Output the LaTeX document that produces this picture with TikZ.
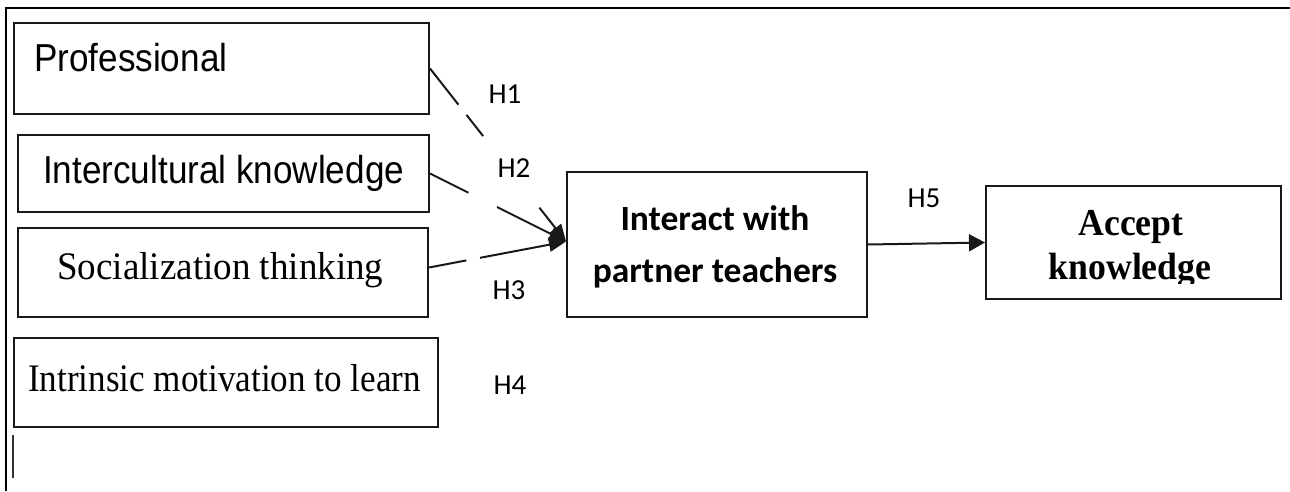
\documentclass[tikz,border=0pt]{standalone}
\usepackage{fontspec}
\setmainfont{Liberation Serif}
\newfontfamily\arialn[FakeStretch=0.9]{Liberation Sans}
\newfontfamily\timesn[FakeStretch=0.9]{Liberation Serif}
\newfontfamily\timesm[FakeStretch=0.95]{Liberation Serif}
\newfontfamily\timesb[FakeStretch=0.94]{Liberation Serif}
\newfontfamily\calib{Carlito}
\usetikzlibrary{arrows.meta,calc}
\begin{document}
\begin{tikzpicture}[x=1pt,y=-1pt,
  box/.style={draw=black!90, line width=2pt, inner sep=0pt, anchor=north west},
  txt/.style={inner sep=0pt, anchor=base west},
  ctxt/.style={inner sep=0pt, anchor=base},
  hlab/.style={inner sep=0pt, font=\calib\fontsize{29}{32}\selectfont},
  conn/.style={draw=black!90, line width=2pt},
  tipA/.style={-{Triangle[length=17pt,width=14pt]}},
]
\useasboundingbox (0,0) rectangle (1290,491);
% frame
\draw[line width=2pt] (6,491) -- (6,8) -- (1290,8);
\draw[line width=2.5pt, black!80] (13,435) -- (13,478);

% left boxes
\node[box, minimum width=415pt, minimum height=91pt] (prof) at (13,22) {};
\node[box, minimum width=411pt, minimum height=77pt] (inter) at (17,134) {};
\node[box, minimum width=410pt, minimum height=89pt] (soc) at (17,227) {};
\node[box, minimum width=424pt, minimum height=89pt] (intr) at (13,337) {};

\node[txt, font=\arialn\fontsize{39}{45}\selectfont] (tprof) at (34,71) {Professional};
\node[txt, font=\arialn\fontsize{39}{45}\selectfont] (tinter) at (43,183) {Intercultural knowledge};
\node[txt, font=\timesm\fontsize{39}{45}\selectfont] (tsoc) at (57,279) {Socialization thinking};
\node[txt, font=\timesn\fontsize{39}{45}\selectfont] (tintr) at (28,391) {Intrinsic motivation to learn};

% middle box
\node[box, minimum width=300pt, minimum height=145pt] (mid) at (566,171) {};
\node[ctxt, font=\calib\bfseries\fontsize{35.5}{40}\selectfont] (mid1) at (715,230) {Interact with};
\node[ctxt, font=\calib\bfseries\fontsize{35.5}{40}\selectfont] (mid2) at (715,282) {partner teachers};

% right box
\node[box, minimum width=295pt, minimum height=113pt] (acc) at (985,185) {};
\node[ctxt, font=\timesb\bfseries\fontsize{38}{44}\selectfont] (acc1) at (1131,235) {Accept};
\begin{scope}
\clip (985,185) rectangle (1280,283);
\node[ctxt, font=\timesb\bfseries\fontsize{38}{44}\selectfont] (acc2) at (1130,279) {knowledge};
\end{scope}

% connectors
\coordinate (hub) at ($(mid.west)+(0,-3)$);
\coordinate (socout) at ($(soc.east)+(0,-5)$);
\draw[conn, tipA, dash pattern=on 46pt off 13pt on 27pt off 91pt on 60pt] (prof.east) -- (hub);
\draw[conn, tipA, dash pattern=on 43pt off 32pt on 90pt] (inter.east) -- (hub);
\draw[conn, tipA, dash pattern=on 38pt off 14pt on 100pt] (socout) -- (hub);
\draw[conn, -{Triangle[length=16pt,width=17pt]}] (mid.east) -- (acc.west);

% labels
\node[hlab] (h1) at (505,94) {H1};
\node[hlab] (h2) at (514,168) {H2};
\node[hlab] (h3) at (509,290) {H3};
\node[hlab] (h4) at (510,385) {H4};
\node[hlab] (h5) at (924,198) {H5};
\end{tikzpicture}
\end{document}
